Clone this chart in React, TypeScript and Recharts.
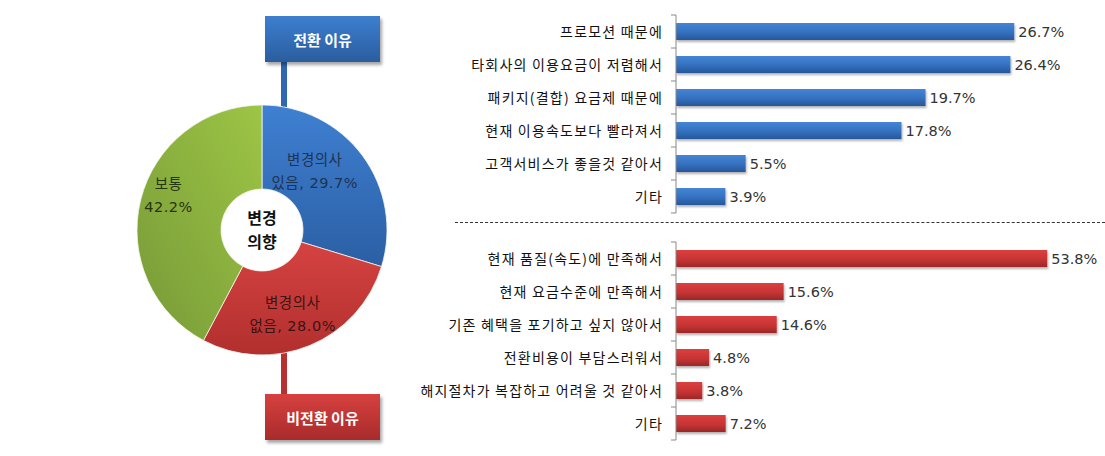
import { PieChart, Pie, Cell, BarChart, Bar, XAxis, YAxis, LabelList } from "recharts";

const intentNames = ["변경의사 있음", "변경의사 없음", "보통"];
const intentValues = [29.7, 28.0, 42.2];

const switchReasons = [
  "프로모션 때문에",
  "타회사의 이용요금이 저렴해서",
  "패키지(결합) 요금제 때문에",
  "현재 이용속도보다 빨라져서",
  "고객서비스가 좋을것 같아서",
  "기타",
];
const switchValues = [26.7, 26.4, 19.7, 17.8, 5.5, 3.9];

const stayReasons = [
  "현재 품질(속도)에 만족해서",
  "현재 요금수준에 만족해서",
  "기존 혜택을 포기하고 싶지 않아서",
  "전환비용이 부담스러워서",
  "해지절차가 복잡하고 어려울 것 같아서",
  "기타",
];
const stayValues = [53.8, 15.6, 14.6, 4.8, 3.8, 7.2];

const pieData = intentNames.map((name, i) => ({ name, value: intentValues[i] }));
const switchData = switchReasons.map((name, i) => ({ name, v: switchValues[i] }));
const stayData = stayReasons.map((name, i) => ({ name, v: stayValues[i] }));

const sliceGrads = ["pBlue", "pRed", "pGreen"];
const sliceText = ["#1d3354", "#3a1413", "#26340f"];
const labelNudge = [[-18, -7], [-3, 3], [-8, -14]];

const FONT = '"Noto Sans CJK KR", "Noto Sans", sans-serif';
const NUM_FONT = '"DejaVu Sans", "Noto Sans CJK KR", sans-serif';
const RAD = Math.PI / 180;

function SliceLabel(props: any) {
  const { cx, cy, midAngle, index, name, value } = props;
  const r = 88;
  const x = cx + r * Math.cos(-midAngle * RAD) + labelNudge[index][0];
  const y = cy + r * Math.sin(-midAngle * RAD) + labelNudge[index][1];
  const parts = String(name).split(" ");
  const line1 = parts[0];
  const line2 = parts.length > 1 ? `${parts[1]}, ${value.toFixed(1)}%` : `${value.toFixed(1)}%`;
  return (
    <text x={x} textAnchor="middle" fill={sliceText[index]} style={{ fontFamily: NUM_FONT, fontSize: 14.5, letterSpacing: 0.5 }}>
      <tspan x={x} y={y - 6}>{line1}</tspan>
      <tspan x={x} y={y + 17}>{line2}</tspan>
    </text>
  );
}

function CatTick(props: any) {
  const { x, y, payload, index } = props;
  const ax = x + 13;
  return (
    <g>
      <text x={x} y={y} dy={5} textAnchor="end" fill="#111" style={{ fontFamily: FONT, fontSize: 14, letterSpacing: 1.2 }}>
        {payload.value}
      </text>
      <line x1={ax - 5} x2={ax} y1={y - 16.5} y2={y - 16.5} stroke="#888" />
      {index === 5 && <line x1={ax - 5} x2={ax} y1={y + 16.5} y2={y + 16.5} stroke="#888" />}
    </g>
  );
}

const fmt = (v: any) => `${Number(v).toFixed(1)}%`;

function Defs() {
  return (
    <defs>
      <linearGradient id="bBlue" x1="0" y1="0" x2="0" y2="1">
        <stop offset="0%" stopColor="#4585d6" />
        <stop offset="55%" stopColor="#3470bf" />
        <stop offset="100%" stopColor="#27579a" />
      </linearGradient>
      <linearGradient id="bRed" x1="0" y1="0" x2="0" y2="1">
        <stop offset="0%" stopColor="#dc3f3f" />
        <stop offset="55%" stopColor="#c73434" />
        <stop offset="100%" stopColor="#9c2828" />
      </linearGradient>
      <filter id="barShadow" x="-5%" y="-20%" width="110%" height="160%">
        <feDropShadow dx="1" dy="2" stdDeviation="1" floodColor="#000" floodOpacity="0.3" />
      </filter>
    </defs>
  );
}

function ReasonChart({ data, grad, max, top, marginRight }: any) {
  return (
    <div style={{ position: "absolute", left: 400, top }}>
      <BarChart
        width={705}
        height={228}
        data={data}
        layout="vertical"
        margin={{ top: 14, right: marginRight, bottom: 16, left: 0 }}
        barCategoryGap={8}
      >
        <Defs />
        <XAxis type="number" domain={[0, max]} hide />
        <YAxis
          type="category"
          dataKey="name"
          width={276}
          tickLine={false}
          tickSize={6}
          tickMargin={7}
          axisLine={{ stroke: "#888" }}
          tick={<CatTick />}
          interval={0}
        />
        <Bar dataKey="v" fill={`url(#${grad})`} barSize={17} isAnimationActive={false} filter="url(#barShadow)">
          <LabelList
            dataKey="v"
            position="right"
            offset={4}
            formatter={fmt}
            fill="#333"
            style={{ fontFamily: NUM_FONT, fontSize: 14.5 }}
          />
        </Bar>
      </BarChart>
    </div>
  );
}

const boxBase: any = {
  position: "absolute",
  width: 115,
  height: 46,
  color: "#fff",
  fontFamily: FONT,
  fontWeight: "bold",
  fontSize: 15,
  display: "flex",
  alignItems: "center",
  justifyContent: "center",
  boxShadow: "2px 3px 3px rgba(0,0,0,0.35)",
};

export default function App() {
  return (
    <div style={{ position: "absolute", left: 0, top: 0, width: 1105, height: 456, background: "#fff", overflow: "hidden" }}>
      <div style={{ position: "absolute", left: 281, top: 62, width: 6, height: 45, background: "#2f68b0" }} />
      <div style={{ position: "absolute", left: 281, top: 352, width: 6, height: 44, background: "#b8302f" }} />
      <div style={{ position: "absolute", left: 0, top: 0 }}>
        <PieChart width={420} height={456}>
          <defs>
            <linearGradient id="pBlue" x1="0" y1="0" x2="0" y2="1">
              <stop offset="0%" stopColor="#3f80d2" />
              <stop offset="100%" stopColor="#2b5fa4" />
            </linearGradient>
            <linearGradient id="pRed" x1="0" y1="0" x2="0" y2="1">
              <stop offset="0%" stopColor="#d54341" />
              <stop offset="100%" stopColor="#b12f2e" />
            </linearGradient>
            <linearGradient id="pGreen" x1="1" y1="0" x2="0" y2="1">
              <stop offset="0%" stopColor="#9dc545" />
              <stop offset="100%" stopColor="#779a38" />
            </linearGradient>
          </defs>
          <Pie
            data={pieData}
            dataKey="value"
            nameKey="name"
            cx={257}
            cy={225}
            outerRadius={125}
            innerRadius={41}
            startAngle={90}
            endAngle={-270}
            stroke="#f4f6ee"
            strokeWidth={0.8}
            label={SliceLabel}
            labelLine={false}
            isAnimationActive={false}
          >
            {pieData.map((d, i) => (
              <Cell key={d.name} fill={`url(#${sliceGrads[i]})`} />
            ))}
          </Pie>
        </PieChart>
      </div>
      <div
        style={{
          position: "absolute",
          left: 222,
          top: 205,
          width: 80,
          textAlign: "center",
          fontFamily: FONT,
          fontWeight: "bold",
          fontSize: 16,
          lineHeight: "24px",
          color: "#111",
        }}
      >
        변경
        <br />
        의향
      </div>
      <div style={{ ...boxBase, left: 265, top: 16, background: "linear-gradient(#3d7fcf, #2a5d9f)" }}>전환 이유</div>
      <div style={{ ...boxBase, left: 265, top: 394, background: "linear-gradient(#d6413f, #a92b2b)" }}>비전환 이유</div>

      <ReasonChart data={switchData} grad="bBlue" max={30} top={1} marginRight={49} />
      <div style={{ position: "absolute", left: 455, top: 222, width: 650, borderTop: "1px dashed #333" }} />
      <ReasonChart data={stayData} grad="bRed" max={60} top={228} marginRight={15} />
    </div>
  );
}
